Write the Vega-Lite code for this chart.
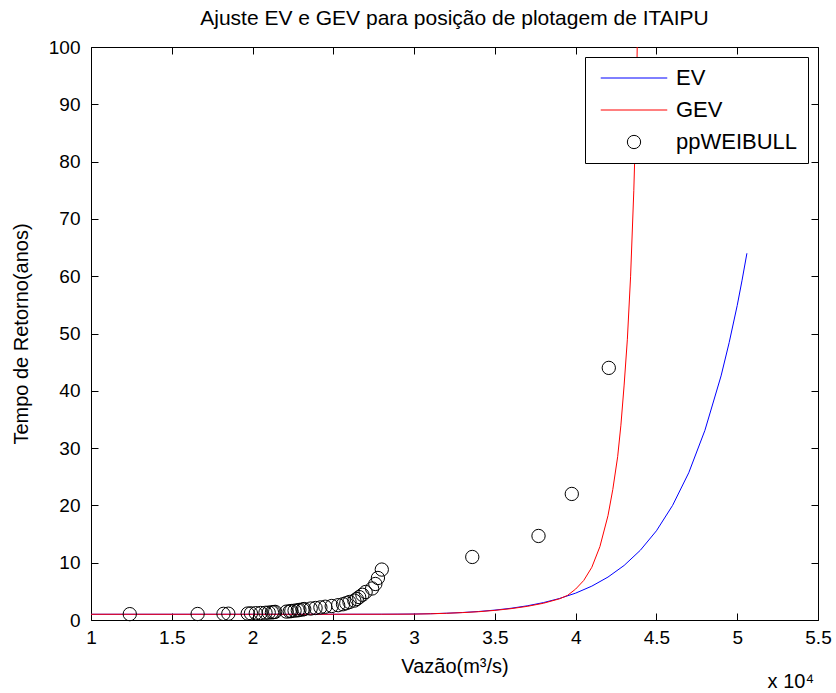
{
  "$schema": "https://vega.github.io/schema/vega-lite/v6.json",
  "width": 727,
  "height": 573,
  "autosize": "none",
  "padding": {"left": 91, "top": 47, "right": 18, "bottom": 73},
  "background": "white",
  "config": {
    "font": "Liberation Sans",
    "view": {"stroke": null},
    "axis": {
      "domainColor": "black", "tickColor": "black", "labelColor": "black", "titleColor": "black",
      "labelFont": "Liberation Sans", "titleFont": "Liberation Sans", "labelFontSize": 19, "titleFontSize": 20,
      "titleFontWeight": "normal", "grid": false, "tickSize": -7, "domainWidth": 1, "tickWidth": 1
    }
  },
  "title": {
    "text": "Ajuste EV e GEV para posição de plotagem de ITAIPU",
    "fontSize": 21, "fontWeight": "normal", "font": "Liberation Sans", "color": "black",
    "baseline": "alphabetic", "offset": -8, "anchor": "middle"
  },
  "datasets": {
    "ev": [
      {"x": 1.0, "T": 1.0, "s": "EV"}, {"x": 2.0, "T": 1.0, "s": "EV"}, {"x": 2.5, "T": 1.001, "s": "EV"},
      {"x": 2.8, "T": 1.01, "s": "EV"}, {"x": 2.9, "T": 1.025, "s": "EV"},
      {"x": 3.0, "T": 1.046, "s": "EV"}, {"x": 3.1, "T": 1.098, "s": "EV"}, {"x": 3.2, "T": 1.183, "s": "EV"},
      {"x": 3.3, "T": 1.308, "s": "EV"}, {"x": 3.4, "T": 1.486, "s": "EV"}, {"x": 3.5, "T": 1.727, "s": "EV"},
      {"x": 3.6, "T": 2.05, "s": "EV"}, {"x": 3.7, "T": 2.475, "s": "EV"}, {"x": 3.8, "T": 3.03, "s": "EV"},
      {"x": 3.9, "T": 3.755, "s": "EV"}, {"x": 4.0, "T": 4.69, "s": "EV"}, {"x": 4.1, "T": 5.91, "s": "EV"},
      {"x": 4.2, "T": 7.49, "s": "EV"}, {"x": 4.3, "T": 9.52, "s": "EV"}, {"x": 4.4, "T": 12.16, "s": "EV"},
      {"x": 4.5, "T": 15.57, "s": "EV"}, {"x": 4.6, "T": 20.0, "s": "EV"}, {"x": 4.7, "T": 25.7, "s": "EV"},
      {"x": 4.8, "T": 33.1, "s": "EV"}, {"x": 4.9, "T": 42.6, "s": "EV"}, {"x": 4.95, "T": 48.4, "s": "EV"},
      {"x": 5.0, "T": 54.9, "s": "EV"}, {"x": 5.03, "T": 59.3, "s": "EV"}, {"x": 5.06, "T": 64.0, "s": "EV"}
    ],
    "gev": [
      {"x": 1.0, "T": 1.0, "s": "GEV"}, {"x": 2.0, "T": 1.0, "s": "GEV"}, {"x": 2.5, "T": 1.0, "s": "GEV"},
      {"x": 2.8, "T": 1.005, "s": "GEV"}, {"x": 2.9, "T": 1.012, "s": "GEV"},
      {"x": 3.0, "T": 1.03, "s": "GEV"}, {"x": 3.1, "T": 1.08, "s": "GEV"}, {"x": 3.2, "T": 1.17, "s": "GEV"},
      {"x": 3.3, "T": 1.29, "s": "GEV"}, {"x": 3.4, "T": 1.45, "s": "GEV"}, {"x": 3.5, "T": 1.68, "s": "GEV"},
      {"x": 3.6, "T": 1.98, "s": "GEV"}, {"x": 3.7, "T": 2.38, "s": "GEV"}, {"x": 3.8, "T": 2.92, "s": "GEV"},
      {"x": 3.9, "T": 3.7, "s": "GEV"}, {"x": 3.95, "T": 4.3, "s": "GEV"}, {"x": 4.0, "T": 5.4, "s": "GEV"},
      {"x": 4.05, "T": 6.9, "s": "GEV"}, {"x": 4.1, "T": 9.2, "s": "GEV"}, {"x": 4.15, "T": 12.8, "s": "GEV"},
      {"x": 4.2, "T": 18.2, "s": "GEV"}, {"x": 4.23, "T": 22.8, "s": "GEV"}, {"x": 4.26, "T": 28.5, "s": "GEV"},
      {"x": 4.28, "T": 34, "s": "GEV"}, {"x": 4.3, "T": 41, "s": "GEV"}, {"x": 4.32, "T": 49, "s": "GEV"},
      {"x": 4.34, "T": 60, "s": "GEV"}, {"x": 4.36, "T": 75, "s": "GEV"}, {"x": 4.37, "T": 85, "s": "GEV"},
      {"x": 4.38, "T": 98, "s": "GEV"}, {"x": 4.39, "T": 120, "s": "GEV"}, {"x": 4.4, "T": 150, "s": "GEV"}
    ],
    "pp": [
      {"x": 4.205, "T": 44.0, "s": "ppWEIBULL"}, {"x": 3.976, "T": 22.0, "s": "ppWEIBULL"},
      {"x": 3.77, "T": 14.667, "s": "ppWEIBULL"}, {"x": 3.36, "T": 11.0, "s": "ppWEIBULL"},
      {"x": 2.80, "T": 8.8, "s": "ppWEIBULL"}, {"x": 2.776, "T": 7.333, "s": "ppWEIBULL"},
      {"x": 2.76, "T": 6.286, "s": "ppWEIBULL"}, {"x": 2.74, "T": 5.5, "s": "ppWEIBULL"},
      {"x": 2.70, "T": 4.889, "s": "ppWEIBULL"}, {"x": 2.68, "T": 4.4, "s": "ppWEIBULL"},
      {"x": 2.66, "T": 4.0, "s": "ppWEIBULL"}, {"x": 2.645, "T": 3.667, "s": "ppWEIBULL"},
      {"x": 2.63, "T": 3.385, "s": "ppWEIBULL"}, {"x": 2.60, "T": 3.143, "s": "ppWEIBULL"},
      {"x": 2.58, "T": 2.933, "s": "ppWEIBULL"}, {"x": 2.56, "T": 2.75, "s": "ppWEIBULL"},
      {"x": 2.53, "T": 2.588, "s": "ppWEIBULL"}, {"x": 2.49, "T": 2.444, "s": "ppWEIBULL"},
      {"x": 2.45, "T": 2.316, "s": "ppWEIBULL"}, {"x": 2.42, "T": 2.2, "s": "ppWEIBULL"},
      {"x": 2.39, "T": 2.095, "s": "ppWEIBULL"}, {"x": 2.36, "T": 2.0, "s": "ppWEIBULL"},
      {"x": 2.32, "T": 1.913, "s": "ppWEIBULL"}, {"x": 2.31, "T": 1.833, "s": "ppWEIBULL"},
      {"x": 2.29, "T": 1.76, "s": "ppWEIBULL"}, {"x": 2.28, "T": 1.692, "s": "ppWEIBULL"},
      {"x": 2.26, "T": 1.63, "s": "ppWEIBULL"}, {"x": 2.24, "T": 1.571, "s": "ppWEIBULL"},
      {"x": 2.23, "T": 1.517, "s": "ppWEIBULL"}, {"x": 2.21, "T": 1.467, "s": "ppWEIBULL"},
      {"x": 2.14, "T": 1.419, "s": "ppWEIBULL"}, {"x": 2.13, "T": 1.375, "s": "ppWEIBULL"},
      {"x": 2.12, "T": 1.333, "s": "ppWEIBULL"}, {"x": 2.10, "T": 1.294, "s": "ppWEIBULL"},
      {"x": 2.08, "T": 1.257, "s": "ppWEIBULL"}, {"x": 2.05, "T": 1.222, "s": "ppWEIBULL"},
      {"x": 2.02, "T": 1.189, "s": "ppWEIBULL"}, {"x": 1.99, "T": 1.158, "s": "ppWEIBULL"},
      {"x": 1.97, "T": 1.128, "s": "ppWEIBULL"}, {"x": 1.85, "T": 1.1, "s": "ppWEIBULL"},
      {"x": 1.82, "T": 1.073, "s": "ppWEIBULL"}, {"x": 1.66, "T": 1.048, "s": "ppWEIBULL"},
      {"x": 1.24, "T": 1.023, "s": "ppWEIBULL"}
    ],
    "note": [{"label": "x 10⁴"}]
  },
  "layer": [
    {
      "data": {"name": "ev"},
      "mark": {"type": "line", "strokeWidth": 1, "clip": true},
      "encoding": {
        "x": {"field": "x", "type": "quantitative",
              "scale": {"domain": [1, 5.5], "nice": false, "zero": false},
              "axis": {"orient": "bottom", "values": [1, 1.5, 2, 2.5, 3, 3.5, 4, 4.5, 5, 5.5], "format": "~g",
                       "labelPadding": 15, "title": "Vazão(m³/s)", "titlePadding": 9, "labelFlush": false}},
        "y": {"field": "T", "type": "quantitative",
              "scale": {"domain": [0, 100], "nice": false},
              "axis": {"orient": "left", "values": [0, 10, 20, 30, 40, 50, 60, 70, 80, 90, 100],
                       "labelPadding": 18, "title": "Tempo de Retorno(anos)", "titlePadding": 17}},
        "color": {"field": "s", "type": "nominal",
                  "scale": {"domain": ["EV", "GEV", "ppWEIBULL"], "range": ["#0000ff", "#ff0000", "#000000"]},
                  "legend": {
                    "title": null, "orient": "top-right", "offset": 10, "fillColor": "white", "strokeColor": "black",
                    "padding": 10, "labelFontSize": 22, "labelFont": "Liberation Sans", "labelColor": "black",
                    "symbolSize": 177, "symbolStrokeWidth": 1, "symbolOffset": 28, "labelOffset": 31,
                    "rowPadding": 10, "cornerRadius": 0
                  }}
      }
    },
    {
      "data": {"name": "gev"},
      "mark": {"type": "line", "strokeWidth": 1, "clip": true},
      "encoding": {
        "x": {"field": "x", "type": "quantitative",
              "axis": {"orient": "top", "values": [1, 1.5, 2, 2.5, 3, 3.5, 4, 4.5, 5, 5.5], "labels": false, "title": null}},
        "y": {"field": "T", "type": "quantitative",
              "axis": {"orient": "right", "values": [0, 10, 20, 30, 40, 50, 60, 70, 80, 90, 100], "labels": false, "title": null}},
        "color": {"field": "s", "type": "nominal"}
      }
    },
    {
      "data": {"name": "pp"},
      "mark": {"type": "point", "filled": false, "size": 177, "strokeWidth": 1, "opacity": 1},
      "encoding": {
        "x": {"field": "x", "type": "quantitative", "axis": null},
        "y": {"field": "T", "type": "quantitative", "axis": null},
        "color": {"field": "s", "type": "nominal"},
        "shape": {"field": "s", "type": "nominal",
                  "scale": {"domain": ["EV", "GEV", "ppWEIBULL"], "range": ["M-5,0H5", "M-5,0H5", "circle"]}}
      }
    },
    {
      "data": {"name": "note"},
      "mark": {"type": "text", "fontSize": 20, "font": "Liberation Sans", "color": "black",
               "align": "right", "baseline": "alphabetic", "dx": -4, "dy": 68},
      "encoding": {
        "text": {"field": "label"},
        "x": {"datum": 5.5, "type": "quantitative", "axis": null},
        "y": {"datum": 0, "type": "quantitative", "axis": null}
      }
    }
  ],
  "resolve": {"axis": {"x": "independent", "y": "independent"}}
}
